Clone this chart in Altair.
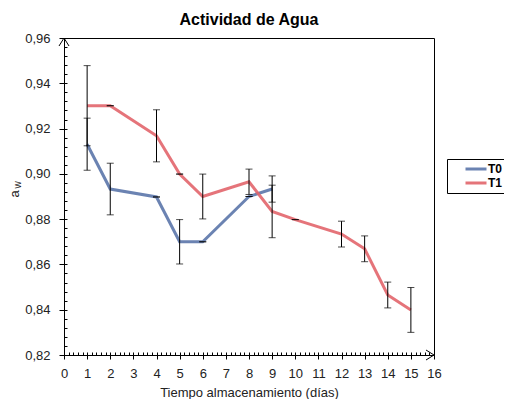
import altair as alt
import pandas as pd

# ---- data ----
t0_days = [1, 2, 4, 5, 6, 8, 9]
t0_vals = [0.9131, 0.8933, 0.8898, 0.8700, 0.8700, 0.8900, 0.8933]
t0_err = [0.0115, 0.0114, 0.0, 0.0098, 0.0, 0.0, 0.0058]

t1_days = [1, 2, 4, 5, 6, 8, 9, 10, 12, 13, 14, 15]
t1_vals = [0.9301, 0.9301, 0.9168, 0.8999, 0.8900, 0.8965, 0.8834, 0.8798, 0.8734, 0.8669, 0.8465, 0.8399]
t1_err = [0.0177, 0.0, 0.0115, 0.0, 0.0099, 0.0056, 0.0116, 0.0, 0.0057, 0.0057, 0.0057, 0.0099]

series_names = ["T0", "T1"]
series_colors = ["#5b76aa", "#e2656b"]

x_ticks = list(range(0, 17))
y_ticks = [0.82, 0.84, 0.86, 0.88, 0.90, 0.92, 0.94, 0.96]
x_minor = [round(i * 0.2, 1) for i in range(0, 81)]
y_minor = [round(0.82 + i * 0.004, 3) for i in range(0, 36)]

title_text = "Actividad de Agua"
x_title = "Tiempo almacenamiento (días)"
y_title_main = "a"
y_title_sub = "w"

FONT = "Liberation Sans"
W, H = 370, 317

rows = []
for name, days, vals, errs in [("T0", t0_days, t0_vals, t0_err), ("T1", t1_days, t1_vals, t1_err)]:
    for d, v, e in zip(days, vals, errs):
        rows.append({"serie": name, "dia": d, "aw": v, "lo": v - e, "hi": v + e})
df = pd.DataFrame(rows)

xs = alt.Scale(domain=[0, 16], nice=False, zero=False)
ys = alt.Scale(domain=[0.82, 0.96], nice=False, zero=False)

x_axis = alt.Axis(values=x_ticks, title=x_title, tickSize=4, labelPadding=8, titlePadding=6,
                  grid=False, domainColor="black", tickColor="black", labelFontSize=13,
                  titleFontSize=13, titleFontWeight="normal", labelColor="#222", titleColor="#222",
                  labelFont=FONT, titleFont=FONT, labelFlush=False, labelOverlap=False)
y_axis = alt.Axis(values=y_ticks, title=None, tickSize=5, labelPadding=9, grid=False,
                  domainColor="black", tickColor="black", labelFontSize=13, labelColor="#222",
                  labelFont=FONT, labelFlush=False, labelOverlap=False,
                  labelExpr="replace(format(datum.value, '.2f'), '.', ',')")

legend = alt.Legend(title=None, orient="none", legendX=383, legendY=121, strokeColor="black",
                    fillColor="white", padding=4, symbolType="M-3,0L3,0", symbolSize=49,
                    symbolStrokeWidth=3, symbolOffset=19, labelOffset=6, labelFontSize=12,
                    labelFontWeight="bold", labelColor="black", labelFont=FONT, rowPadding=2)

lines = alt.Chart(df).mark_line(strokeWidth=3, opacity=0.9).encode(
    x=alt.X("dia:Q", scale=xs, axis=x_axis),
    y=alt.Y("aw:Q", scale=ys, axis=y_axis),
    color=alt.Color("serie:N", scale=alt.Scale(domain=series_names, range=series_colors), legend=legend),
    detail="serie:N",
)

bars = alt.Chart(df).mark_rule(color="black", strokeWidth=1).encode(
    x=alt.X("dia:Q", scale=xs, axis=None),
    y=alt.Y("lo:Q", scale=ys, axis=None),
    y2="hi:Q",
)
caps_lo = alt.Chart(df).mark_tick(color="black", thickness=1, size=7, orient="horizontal").encode(
    x=alt.X("dia:Q", scale=xs, axis=None),
    y=alt.Y("lo:Q", scale=ys, axis=None),
)
caps_hi = alt.Chart(df).mark_tick(color="black", thickness=1, size=7, orient="horizontal").encode(
    x=alt.X("dia:Q", scale=xs, axis=None),
    y=alt.Y("hi:Q", scale=ys, axis=None),
)

arrows_df = pd.DataFrame({"x": [0, 16], "y": [0.96, 0.82], "dir": ["up", "right"]})
arrows = alt.Chart(arrows_df).mark_point(filled=False, color="black", strokeWidth=1, size=100, opacity=1).encode(
    x=alt.X("x:Q", scale=xs, axis=None),
    y=alt.Y("y:Q", scale=ys, axis=None),
    shape=alt.Shape("dir:N", scale=alt.Scale(domain=["up", "right"],
                                             range=["M-1,1.6L0,0L1,1.6", "M-1.6,-1L0,0L-1.6,1"]),
                    legend=None),
)

minor_x = alt.Chart(pd.DataFrame({"v": x_minor})).mark_point(opacity=0).encode(
    x=alt.X("v:Q", scale=xs, axis=alt.Axis(orient="top", offset=-H, values=x_minor, labels=False,
                                            domain=False, tickSize=3, title=None, grid=False,
                                            tickColor="black")),
)
minor_y = alt.Chart(pd.DataFrame({"v": y_minor})).mark_point(opacity=0).encode(
    y=alt.Y("v:Q", scale=ys, axis=alt.Axis(orient="right", offset=-W, values=y_minor, labels=False,
                                            domain=False, tickSize=3, title=None, grid=False,
                                            tickColor="black")),
)

ytitle_a = alt.Chart(pd.DataFrame({"t": [y_title_main]})).mark_text(
    angle=270, align="center", baseline="alphabetic", fontSize=13, font=FONT, color="#222"
).encode(x=alt.value(-45), y=alt.value(156), text="t:N")
ytitle_w = alt.Chart(pd.DataFrame({"t": [y_title_sub]})).mark_text(
    angle=270, align="center", baseline="alphabetic", fontSize=10, font=FONT, color="#222"
).encode(x=alt.value(-43), y=alt.value(147), text="t:N")

title_mark = alt.Chart(pd.DataFrame({"t": [title_text]})).mark_text(
    align="center", baseline="alphabetic", fontSize=16, fontWeight="bold", font=FONT, color="black"
).encode(x=alt.value(W / 2), y=alt.value(-13), text="t:N")

chart = alt.layer(
    minor_x, minor_y, lines, bars, caps_lo, caps_hi, arrows, ytitle_a, ytitle_w, title_mark
).resolve_axis(x="independent", y="independent").properties(
    width=W, height=H,
    autosize=alt.AutoSizeParams(type="none"),
    padding={"left": 56, "top": 30, "right": 70, "bottom": 44},
).configure_view(stroke="black", strokeWidth=1)

chart.save("out.html", embed_options={"renderer": "svg", "actions": False})
